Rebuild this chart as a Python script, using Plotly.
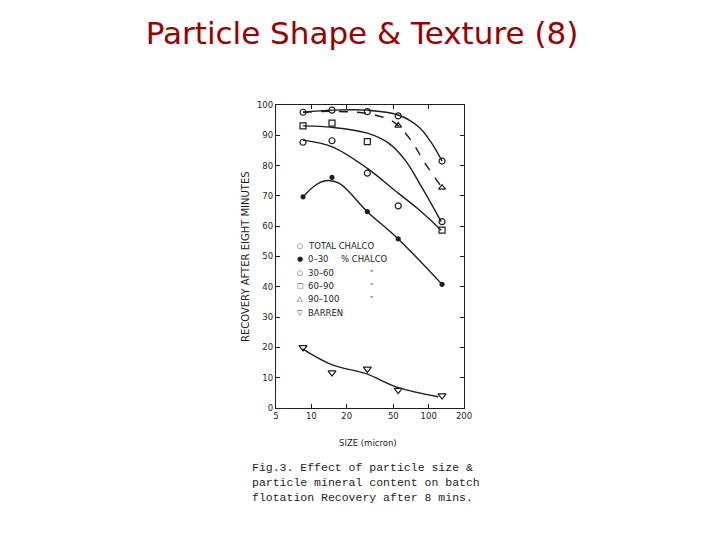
import plotly.graph_objects as go

# ---- data ----
size_pts = [8.5, 15, 30, 55, 130]

total_chalco = [97.6, 98.3, 97.8, 96.4, 81.5]
chalco_0_30 = [69.7, 76.1, 64.8, 55.8, 40.8]
chalco_30_60 = [87.7, 88.2, 77.5, 66.7, 61.5]
size_60_90 = [8.5, 15, 30, 130]
chalco_60_90 = [93.1, 94.0, 87.9, 58.7]
size_90_100 = [55, 130]
chalco_90_100 = [93.2, 72.7]
barren = [20.0, 11.7, 12.9, 5.9, 4.1]

# fitted curves as drawn in the figure
fit_total_x = [8.5, 15.1, 30, 55, 82, 106, 130]
fit_total_y = [97.6, 98.3, 98.3, 96.7, 92.8, 87.4, 81.5]
fit_dash_x = [8.5, 15.1, 30, 45.5, 55, 72, 93, 130]
fit_dash_y = [97.6, 97.9, 97.2, 95.3, 93.2, 87.9, 80.8, 72.7]
fit_c_x = [8.5, 15.1, 30, 45.5, 63, 87, 128]
fit_c_y = [93.1, 92.6, 90.7, 87.4, 81.8, 73.0, 61.5]
fit_d_x = [8.5, 15.1, 30, 55, 80, 128]
fit_d_y = [88.4, 86.2, 79.1, 70.9, 65.9, 58.7]
fit_e_x = [8.5, 10.9, 13.2, 17.2, 30, 55, 130]
fit_e_y = [69.7, 73.6, 75.0, 74.2, 64.8, 55.8, 40.8]
fit_b_x = [8.4, 15.1, 28.8, 55.3, 121]
fit_b_y = [19.5, 14.2, 11.4, 6.7, 3.7]

x_ticks = [5, 10, 20, 50, 100, 200]
y_ticks = list(range(0, 101, 10))

legend_symbols = ["○", "●", "○", "□", "△", "▽"]
legend_labels = ["TOTAL CHALCO", "0–30", "30–60", "60–90", "90–100", "BARREN"]
legend_suffix = ["", "% CHALCO", "\"", "\"", "\"", ""]

INK = "#1e1e1e"
FONT = "DejaVu Sans, Liberation Sans, Arial"

fig = go.Figure()

# curves
for fx, fy, dash in [
    (fit_total_x, fit_total_y, "solid"),
    (fit_dash_x, fit_dash_y, "dash"),
    (fit_c_x, fit_c_y, "solid"),
    (fit_d_x, fit_d_y, "solid"),
    (fit_e_x, fit_e_y, "solid"),
    (fit_b_x, fit_b_y, "solid"),
]:
    fig.add_trace(go.Scatter(
        x=fx, y=fy, mode="lines", showlegend=False, hoverinfo="skip",
        line=dict(color=INK, width=1.4, dash=dash, shape="spline", smoothing=1.0),
    ))

def pts(x, y, name, symbol, size=6):
    fig.add_trace(go.Scatter(
        x=x, y=y, mode="markers", name=name, showlegend=False,
        marker=dict(symbol=symbol, size=size, color=INK, line=dict(color=INK, width=1.2)),
    ))

pts(size_pts, total_chalco, legend_labels[0], "circle-open")
pts(size_pts, chalco_0_30, legend_labels[1], "circle", 4)
pts(size_pts, chalco_30_60, legend_labels[2], "circle-open")
pts(size_60_90, chalco_60_90, legend_labels[3], "square-open")
pts(size_90_100, chalco_90_100, legend_labels[4], "triangle-up-open")
pts(size_pts, barren, legend_labels[5], "triangle-down-open", 7)

axis_common = dict(
    showgrid=False, zeroline=False, showline=True, linecolor=INK, linewidth=1.2,
    mirror="allticks", ticks="inside", ticklen=4, tickcolor=INK,
    tickfont=dict(family=FONT, size=8.5, color=INK),
)

fig.update_xaxes(type="log", range=[0.69897, 2.30103], tickvals=x_ticks,
                 ticktext=[str(v) for v in x_ticks], **axis_common)
fig.update_yaxes(range=[0, 100], tickvals=y_ticks, **axis_common)

# target-pixel -> plot-area paper coords (plot area: x 276..464, y 105..408 in screenshot)
def px(x):
    return (x - 276) / 188

def py(y):
    return (408 - y) / 303

annotations = [
    dict(text="RECOVERY AFTER EIGHT MINUTES", x=px(245), y=py(257), textangle=-90,
         xanchor="center", yanchor="middle",
         font=dict(family=FONT, size=10, color=INK)),
    dict(text="SIZE (micron)", x=px(368), y=py(443), xanchor="center", yanchor="middle",
         font=dict(family=FONT, size=8.5, color=INK)),
    dict(text="Fig.3. Effect of particle size &amp;<br>particle mineral content on batch<br>flotation Recovery after 8 mins.",
         x=px(250), y=py(459), xanchor="left", yanchor="top", align="left",
         font=dict(family="Liberation Mono, Courier New", size=11.5, color=INK)),
]

row_y = [246, 259.3, 272.7, 285.7, 299, 312.7]
for sym, lab, suf, ry in zip(legend_symbols, legend_labels, legend_suffix, row_y):
    annotations.append(dict(text=sym, x=px(300), y=py(ry), xanchor="center", yanchor="middle",
                            font=dict(family=FONT, size=7, color=INK)))
    annotations.append(dict(text=lab, x=px(306), y=py(ry), xanchor="left", yanchor="middle",
                            font=dict(family=FONT, size=8.5, color=INK)))
    if suf == "% CHALCO":
        annotations.append(dict(text=suf, x=px(339), y=py(ry), xanchor="left", yanchor="middle",
                                font=dict(family=FONT, size=8.5, color=INK)))
    elif suf:
        annotations.append(dict(text=suf, x=px(371), y=py(ry), xanchor="center", yanchor="middle",
                                font=dict(family=FONT, size=7, color=INK)))

for a in annotations:
    a.update(xref="paper", yref="paper", showarrow=False)

fig.update_layout(
    width=720, height=540,
    margin=dict(l=268, r=264, t=97, b=140),
    paper_bgcolor="white", plot_bgcolor="white",
    showlegend=False,
    title=dict(text="Particle Shape &amp; Texture (8)", x=0.5 - 6 / 720, xanchor="center",
               y=1 - 25 / 540, yanchor="middle",
               font=dict(family="DejaVu Sans", size=31, color="#990000")),
    annotations=annotations,
)

fig.write_html("out.html")
